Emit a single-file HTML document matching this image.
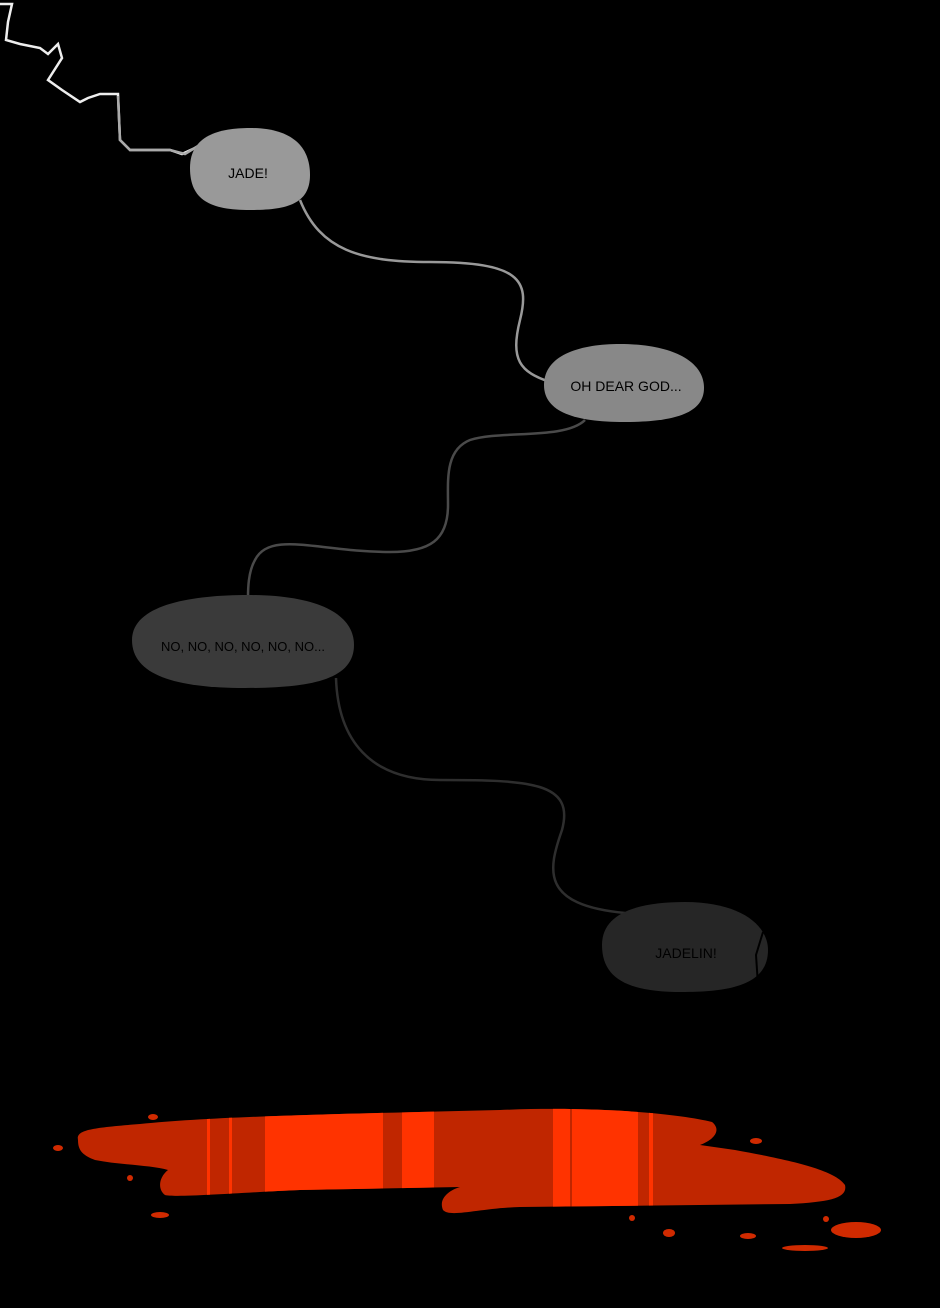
<!DOCTYPE html>
<html><head><meta charset="utf-8"><style>
html,body{margin:0;padding:0;background:#000;}
svg{display:block}
text{font-family:"Liberation Sans Narrow","Liberation Sans",sans-serif;font-size:14px;fill:#000;text-anchor:middle;}
</style></head><body>
<svg width="940" height="1308" viewBox="0 0 940 1308" xmlns="http://www.w3.org/2000/svg">
<rect width="940" height="1308" fill="#000"/>
<path d="M0 4 L12 4 L8 22 L6 40 L20 44 L40 48 L48 54 L58 44 L62 58 L48 80 L62 90 L80 102 L88 98 L100 94 L118 94 L120 140 L130 150 L170 150 L182 154 L195 148" fill="none" stroke="#eee" stroke-width="2.5"/>
<path d="M118 96 L120 140 L130 150 L170 150 L185 154 L198 146" fill="none" stroke="#aaa" stroke-width="2.5"/>
<path d="M300 200 C320 250 360 262 430 262 C520 262 530 280 520 320 C510 360 520 372 550 382" fill="none" stroke="#999" stroke-width="2.5"/>
<path d="M585 420 C565 440 500 430 470 440 C445 450 448 480 448 505 C448 540 430 552 390 552 C320 552 270 530 255 560 C248 572 248 590 248 598" fill="none" stroke="#4a4a4a" stroke-width="2.5"/>
<path d="M336 678 C338 740 370 780 440 780 C530 780 575 782 562 830 C548 870 540 905 625 913" fill="none" stroke="#2e2e2e" stroke-width="2.5"/>
<path d="M190 168 C190 135 220 128 250 128 C290 128 310 145 310 175 C310 205 285 210 250 210 C210 210 190 200 190 168Z" fill="#999"/>
<text x="248" y="178">JADE!</text>
<path d="M544 385 C544 355 580 344 620 344 C670 344 704 360 704 388 C704 415 670 422 624 422 C575 422 544 412 544 385Z" fill="#888"/>
<text x="626" y="391">OH DEAR GOD...</text>
<path d="M132 640 C132 605 190 595 248 595 C320 595 354 615 354 645 C354 680 310 688 245 688 C175 688 132 675 132 640Z" fill="#3a3a3a"/>
<text x="243" y="651" style="font-size:13px">NO, NO, NO, NO, NO, NO...</text>
<path d="M602 945 C602 912 640 902 685 902 C740 902 768 925 768 950 C768 985 730 992 682 992 C630 992 602 980 602 945Z" fill="#262626"/>
<text x="686" y="958">JADELIN!</text>
<path d="M763 932 L756 955 L758 985" fill="none" stroke="#000" stroke-width="2"/>
<defs><clipPath id="p">
<path d="M78 1140 C76 1130 90 1128 140 1124 C220 1116 340 1114 500 1110 C600 1106 680 1114 712 1122 C722 1130 714 1140 700 1145 L735 1150 C790 1160 835 1170 845 1185 C848 1198 830 1202 790 1204 L520 1207 C480 1208 450 1218 443 1210 C438 1198 450 1190 460 1187 L300 1190 C250 1192 175 1198 165 1195 C158 1190 158 1178 168 1170 C150 1165 120 1165 95 1160 C82 1155 78 1150 78 1140Z"/>
</clipPath></defs>
<g clip-path="url(#p)">
<rect x="60" y="1100" width="800" height="130" fill="#c02600"/>
<rect x="207" y="1100" width="3" height="130" fill="#ff3300"/>
<rect x="229" y="1100" width="3" height="130" fill="#ff3300"/>
<rect x="265" y="1100" width="118" height="130" fill="#ff3300"/>
<rect x="402" y="1100" width="32" height="130" fill="#ff3300"/>
<rect x="553" y="1100" width="85" height="130" fill="#ff3300"/>
<rect x="570" y="1100" width="2" height="130" fill="#c02600"/>
<rect x="649" y="1100" width="4" height="130" fill="#ff3300"/>
</g>
<g fill="#d02a00">
<ellipse cx="153" cy="1117" rx="5" ry="3"/><ellipse cx="58" cy="1148" rx="5" ry="3"/>
<ellipse cx="130" cy="1178" rx="3" ry="3"/><ellipse cx="160" cy="1215" rx="9" ry="3"/>
<ellipse cx="756" cy="1141" rx="6" ry="3"/><ellipse cx="632" cy="1218" rx="3" ry="3"/>
<ellipse cx="669" cy="1233" rx="6" ry="4"/><ellipse cx="748" cy="1236" rx="8" ry="3"/>
<ellipse cx="826" cy="1219" rx="3" ry="3"/><ellipse cx="856" cy="1230" rx="25" ry="8"/>
<ellipse cx="805" cy="1248" rx="23" ry="3"/>
</g>
</svg>
</body></html>
